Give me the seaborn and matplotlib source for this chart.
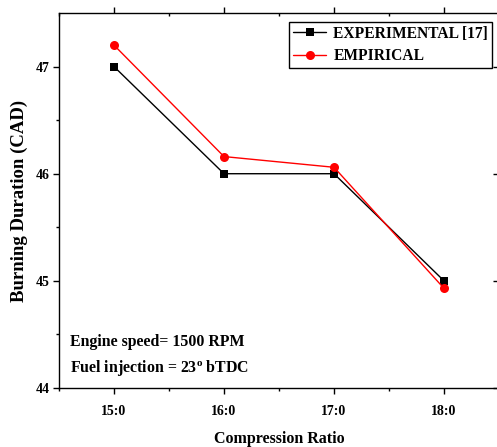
import matplotlib
matplotlib.use("Agg")
import matplotlib.pyplot as plt
import seaborn as sns
import pandas as pd
from matplotlib.ticker import FixedLocator

ratios = [15.0, 16.0, 17.0, 18.0]
tick_labels = ["15:0", "16:0", "17:0", "18:0"]
experimental = [47.0, 46.0, 46.0, 45.0]
empirical = [47.2, 46.16, 46.06, 44.93]
series_names = ["EXPERIMENTAL [17]", "EMPIRICAL"]

sns.set_style("white")
plt.rcParams["font.family"] = ["Liberation Serif", "DejaVu Serif"]
plt.rcParams["font.weight"] = "bold"
plt.rcParams["text.color"] = "black"
plt.rcParams["axes.labelcolor"] = "black"
plt.rcParams["xtick.color"] = "black"
plt.rcParams["ytick.color"] = "black"
plt.rcParams["mathtext.fontset"] = "custom"
plt.rcParams["mathtext.rm"] = "Liberation Serif:bold"
plt.rcParams["mathtext.it"] = "Liberation Serif:bold"

df = pd.DataFrame({
    "ratio": ratios * 2,
    "value": experimental + empirical,
    "series": [series_names[0]] * 4 + [series_names[1]] * 4,
})

fig = plt.figure(figsize=(4.97, 4.47), dpi=100)
ax = fig.add_axes([59 / 497, 1 - 388 / 447, 440 / 497, 375 / 447])

sns.lineplot(data=df[df.series == series_names[0]], x="ratio", y="value", ax=ax,
             color="black", marker="s", markersize=5.5, markeredgewidth=0,
             linewidth=1, label=series_names[0])
sns.lineplot(data=df[df.series == series_names[1]], x="ratio", y="value", ax=ax,
             color="#ff0000", marker="o", markersize=6.5, markeredgewidth=0,
             linewidth=1, label=series_names[1])

ax.set_xlim(14.5, 18.5)
ax.set_ylim(44, 47.5)
ax.xaxis.set_major_locator(FixedLocator(ratios))
ax.set_xticklabels(tick_labels)
ax.xaxis.set_minor_locator(FixedLocator([14.5, 15.5, 16.5, 17.5]))
ax.yaxis.set_major_locator(FixedLocator([44, 45, 46, 47]))
ax.yaxis.set_minor_locator(FixedLocator([44.5, 45.5, 46.5]))

for s in ax.spines.values():
    s.set_color("black")
    s.set_linewidth(1)

ax.tick_params(axis="both", which="major", direction="out", length=4.5, width=1,
               labelsize=10, colors="black", bottom=True, left=True, pad=2)
ax.tick_params(axis="both", which="minor", direction="out", length=2.5, width=1,
               bottom=True, left=True)
ax.tick_params(axis="x", which="both", top=True, labeltop=False)
ax.tick_params(axis="y", which="major", right=True, labelright=False)
for t in ax.xaxis.get_major_ticks() + ax.xaxis.get_minor_ticks():
    t.tick2line.set_marker(matplotlib.lines.TICKDOWN)
for t in ax.yaxis.get_major_ticks():
    t.tick2line.set_marker(matplotlib.lines.TICKLEFT)
ax.tick_params(axis="x", which="major", pad=8)

for lab in ax.get_xticklabels() + ax.get_yticklabels():
    lab.set_fontweight("bold")

ax.set_xlabel("Compression Ratio", fontsize=11.5, fontweight="bold", labelpad=9)
ax.set_ylabel("Burning Duration (CAD)", fontsize=13.5, fontweight="bold", labelpad=6)

ax.text(0.025, 0.123, "Engine speed= 1500 RPM", transform=ax.transAxes,
        fontsize=11.4, fontweight="bold", va="center", ha="left")
ax.text(0.025, 0.053, r"Fuel injection = 23$^{\mathrm{o}}$ bTDC", transform=ax.transAxes,
        fontsize=11.4, fontweight="bold", va="center", ha="left")

leg = ax.legend(loc="upper right", bbox_to_anchor=(0.984, 0.976), frameon=True,
                fancybox=False, edgecolor="black", framealpha=1,
                prop={"weight": "bold", "size": 11.2, "family": "Liberation Serif"},
                handlelength=2.15, handletextpad=0.45, borderpad=0.25,
                labelspacing=0.4, borderaxespad=0)
leg.get_frame().set_linewidth(1)

fig.savefig("out.png", dpi=100)
